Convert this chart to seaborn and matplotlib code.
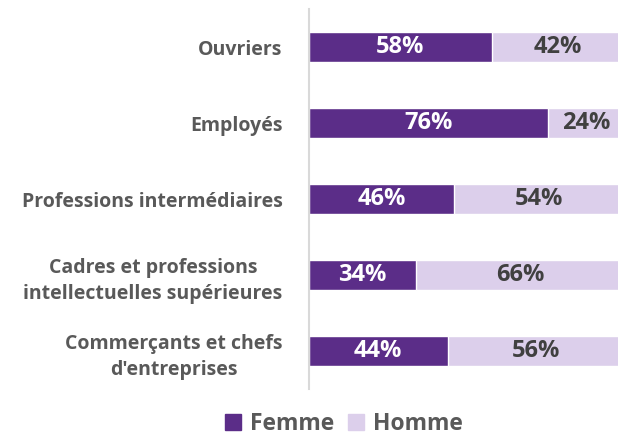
import matplotlib
matplotlib.use("Agg")
import matplotlib.pyplot as plt
import seaborn as sns
import pandas as pd
from matplotlib.patches import Patch

categories = ["Ouvriers", "Employés", "Professions intermédiaires",
              "Cadres et professions\nintellectuelles supérieures",
              "Commerçants et chefs\nd'entreprises"]
femme = [58, 76, 46, 34, 44]
homme = [42, 24, 54, 66, 56]

c_f = "#5B2D88"
c_h = "#DCCFEB"

sns.set_theme(style="white")
plt.rcParams['font.family'] = ['Open Sans', 'DejaVu Sans']

df = pd.DataFrame({"cat": categories, "femme": femme, "homme": homme})
df["total"] = df["femme"] + df["homme"]

fig = plt.figure(figsize=(6.18, 4.38), dpi=100)
ax = fig.add_axes([309/618, 1 - 389/438, 315/618, 380/438])

sns.barplot(data=df, y="cat", x="total", orient="h", color=c_h, width=0.39,
            ax=ax, saturation=1)
sns.barplot(data=df, y="cat", x="femme", orient="h", color=c_f, width=0.39,
            ax=ax, saturation=1)

for i, (f, h) in enumerate(zip(femme, homme)):
    ax.text(f / 2, i, f"{f}%", ha="center", va="center", color="white",
            fontsize=17, fontweight="bold")
    ax.text(f + h / 2, i, f"{h}%", ha="center", va="center", color="#404040",
            fontsize=17, fontweight="bold")

ax.set_xlim(0, 100)
ax.set_ylim(4.5, -0.5)
ax.set_xlabel("")
ax.set_ylabel("")
ax.set_xticks([])
for s in ["top", "right", "bottom"]:
    ax.spines[s].set_visible(False)
ax.spines["left"].set_color("#D9D9D9")
ax.spines["left"].set_linewidth(1.5)
ax.tick_params(axis="y", length=0, pad=19)
for lbl in ax.get_yticklabels():
    lbl.set_fontsize(14)
    lbl.set_fontweight("bold")
    lbl.set_color("#595959")
    lbl.set_horizontalalignment("right")
    lbl.set_multialignment("center")
    lbl.set_linespacing(1.4)

handles = [Patch(color=c_f, label="Femme"), Patch(color=c_h, label="Homme")]
fig.legend(handles=handles, loc="center", bbox_to_anchor=(344/618, 1 - 424/438),
           ncol=2, frameon=False, handlelength=0.7, handleheight=0.7,
           handletextpad=0.4, columnspacing=0.6, borderpad=0.1,
           prop={"size": 16.5, "weight": "bold"}, labelcolor="#595959")

fig.savefig("out.png", dpi=100)
